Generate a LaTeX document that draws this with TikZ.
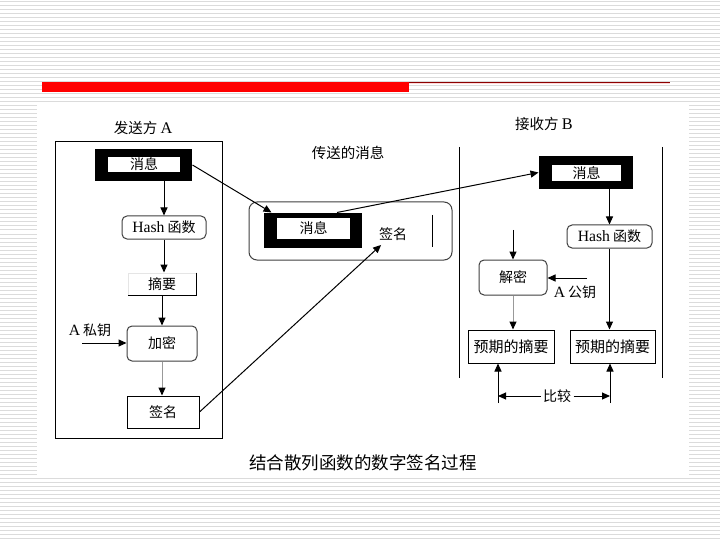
\documentclass[tikz,border=0pt]{standalone}
\usepackage{fontspec}
\setmainfont{Noto Sans CJK SC}
\newfontfamily\latinfont[Scale=1.12]{Liberation Serif}
\newcommand{\latn}[1]{{\latinfont #1}}
\usetikzlibrary{arrows.meta}

\begin{document}
\begin{tikzpicture}
  [x=1pt, y=-1pt, line width=1pt,
   every node/.style={inner sep=0pt, font=\fontsize{14}{16}\selectfont},
   stripe/.style={black!14, line width=1pt},
   blackbox/.style={fill=black},
   whitebox/.style={fill=white},
   rbox/.style={draw=black!75, rounded corners=5pt, fill=white},
   sbox/.style={draw, fill=white},
   title/.style={font=\fontsize{14.5}{16}\selectfont},
   arr/.style={-{Triangle[length=8pt,width=7pt]}},
   garr/.style={black!40, -{Triangle[length=8pt,width=7pt,black]}}]

  % slide background
  \useasboundingbox (0,0) rectangle (720,540);
  \fill[white] (0,0) rectangle (720,540);
  \foreach \y in {2,6,...,538}
    \draw[stripe] (0,\y) -- (720,\y);
  \fill[white] (37,105) rectangle (689,478);
  \fill[red] (42,82) rectangle (409,92);
  \draw[red!55!black] (409,82.5) -- (670,82.5);
  \draw[red!15] (409,84) -- (670,84);

  % sender A
  \node[title] (titleA) at (143,128) {发送方 \latn{A}};
  \draw (55,142) rectangle (222,438);
  \node[blackbox, minimum width=97, minimum height=32] (msgA) at (143.5,165) {};
  \node[whitebox, minimum width=72, minimum height=15] (msgAt) at (144,164.5) {消息};
  \node[rbox, minimum width=84, minimum height=23] (hashA) at (164,227.5) {\latn{Hash} 函数};
  \node[draw=black!10, minimum width=68, minimum height=22] (digA) at (162,284) {摘要};
  \draw (digA.north east) -- (digA.south east) -- (digA.south west);
  \node[rbox, minimum width=70, minimum height=35] (encA) at (162,343.5) {加密};
  \node[sbox, minimum width=72, minimum height=32] (sigA) at (163,412) {签名};
  \node (privA) at (90,330) {\latn{A} 私钥};
  \coordinate (privIn) at (82,343);

  \draw[arr] (hashA.north |- msgA.south) -- (hashA.north);
  \draw[arr] (hashA.south) -- (hashA.south |- digA.north);
  \draw[arr] (digA.south) -- (digA.south |- encA.north);
  \draw[garr] (encA.south) -- (encA.south |- sigA.north);
  \draw[arr] (privIn) -- (privIn -| encA.west);

  % transmitted message
  \node[title] (titleM) at (348,153) {传送的消息};
  \draw[black!75, rounded corners=8pt] (249,202) rectangle (452,260);
  \node[blackbox, minimum width=98, minimum height=35] (msgM) at (313,230.5) {};
  \node[whitebox, minimum width=73, minimum height=21] (msgMt) at (313.5,228.5) {消息};
  \node[inner sep=4pt] (sigM) at (393,234) {签名};
  \draw (432,215) -- (432,247);

  % receiver B
  \node[title] (titleB) at (544,124) {接收方 \latn{B}};
  \draw (459,147) -- (459,378);
  \draw (662,147) -- (662,378);
  \node[blackbox, minimum width=94, minimum height=33] (msgB) at (586,172.5) {};
  \node[whitebox, minimum width=69, minimum height=16] (msgBt) at (586.5,173) {消息};
  \node[rbox, minimum width=85, minimum height=23] (hashB) at (609.5,236.5) {\latn{Hash} 函数};
  \node[rbox, minimum width=68, minimum height=35] (decB) at (513,277.5) {解密};
  \coordinate (decIn) at (513,230);
  \node (pubB) at (575,292) {\latn{A} 公钥};
  \coordinate (pubIn) at (587,278);
  \node[sbox, minimum width=86, minimum height=33, font=\fontsize{15}{17}\selectfont] (expL) at (511,346.5) {预期的摘要};
  \node[sbox, minimum width=85, minimum height=33, font=\fontsize{15}{17}\selectfont] (expR) at (612.5,346.5) {预期的摘要};
  \coordinate (cmpL) at (498,403);
  \coordinate (cmpR) at (610,403);
  \node[fill=white, inner sep=2pt] (cmp) at (557,396) {比较};

  \draw[arr] (hashB.north |- msgB.south) -- (hashB.north);
  \draw[arr] (hashB.south) -- (hashB.south |- expR.north);
  \draw[arr] (decIn) -- (decB.north);
  \draw[arr] (pubIn) -- (pubIn -| decB.east);
  \draw[garr] (decB.south) -- (decB.south |- expL.north);
  \draw[arr] (cmpL) -- (cmpL |- expL.south);
  \draw[arr] (cmpR) -- (cmpR |- expR.south);
  \draw[arr] (cmp.west) -- (cmp.west -| cmpL);
  \draw[arr] (cmp.east) -- (cmp.east -| cmpR);

  % message and signature paths
  \draw[arr] (msgA.east) -- ([xshift=8pt]msgM.north west);
  \draw[arr] ([xshift=24pt]msgM.north) -- (msgB.west);
  \draw[arr] (sigA.east) -- (sigM);

  \node[font=\fontsize{17.5}{20}\selectfont] (caption) at (363,463) {结合散列函数的数字签名过程};
\end{tikzpicture}
\end{document}
